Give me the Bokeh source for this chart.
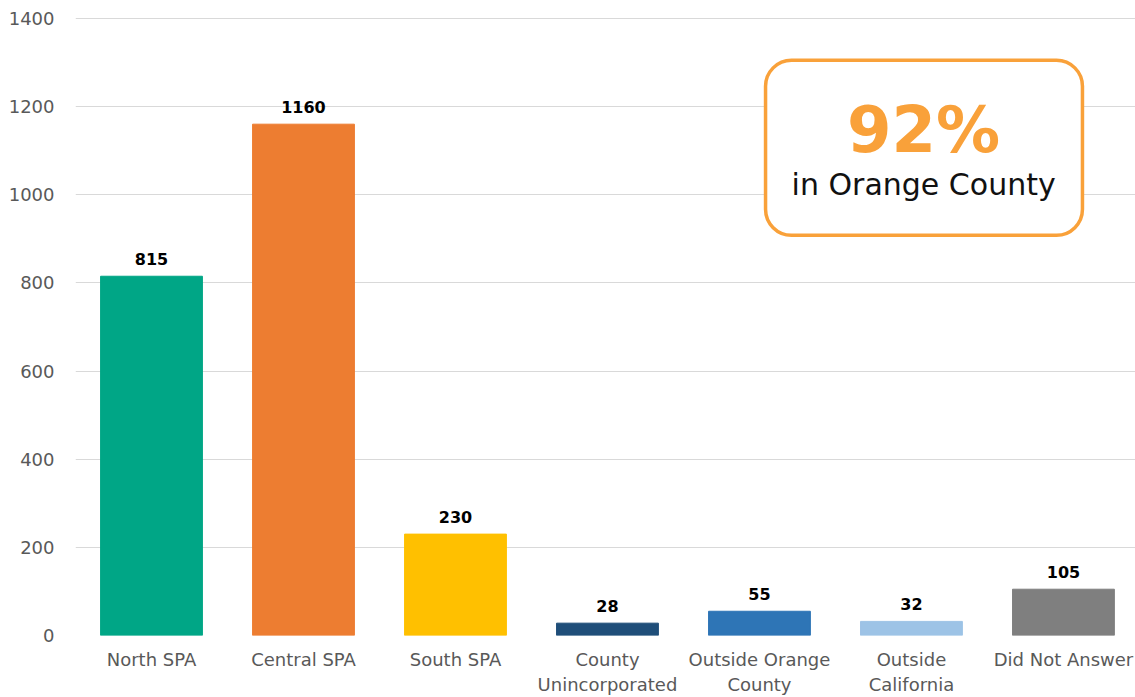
from bokeh.plotting import figure
from bokeh.models import ColumnDataSource, Range1d, FixedTicker, LabelSet, BoxAnnotation, Label
from bokeh.core.properties import value
from bokeh.embed import file_html
from bokeh.resources import INLINE

categories = ["North SPA", "Central SPA", "South SPA", "County\nUnincorporated",
              "Outside Orange\nCounty", "Outside\nCalifornia", "Did Not Answer"]
values = [815, 1160, 230, 28, 55, 32, 105]
colors = ["#00A686", "#ED7D31", "#FFC000", "#1F4E79", "#2E75B6", "#9DC3E6", "#7F7F7F"]
y_ticks = [0, 200, 400, 600, 800, 1000, 1200, 1400]
callout_big = "92%"
callout_small = "in Orange County"

FONT = "DejaVu Sans"

xs = list(range(len(categories)))
src = ColumnDataSource(dict(x=xs, top=values, color=colors, label=[str(v) for v in values]))

p = figure(width=1135, height=697, output_backend="svg", toolbar_location=None,
           x_range=Range1d(-0.5, 6.474), y_range=Range1d(0, 1402),
           min_border_left=75, min_border_top=17, min_border_right=0, min_border_bottom=62)
p.outline_line_color = None
p.background_fill_color = "white"

p.vbar(x="x", top="top", bottom=0, width=0.67, color="color", source=src)

p.xgrid.grid_line_color = None
p.ygrid.grid_line_color = "#D9D9D9"
p.ygrid.grid_line_width = 1
p.ygrid.ticker = FixedTicker(ticks=y_ticks)

p.yaxis.ticker = FixedTicker(ticks=y_ticks)
p.yaxis.axis_line_color = None
p.yaxis.major_tick_line_color = None
p.yaxis.minor_tick_line_color = None
p.yaxis.major_tick_out = 0
p.yaxis.major_label_standoff = 21
p.yaxis.major_label_text_font = FONT
p.yaxis.major_label_text_font_size = "18px"
p.yaxis.major_label_text_color = "#595959"

p.xaxis.ticker = FixedTicker(ticks=xs)
p.xaxis.major_label_overrides = {i: c for i, c in zip(xs, categories)}
p.xaxis.axis_line_color = None
p.xaxis.major_tick_line_color = None
p.xaxis.minor_tick_line_color = None
p.xaxis.major_tick_out = 0
p.xaxis.major_label_standoff = 13
p.xaxis.major_label_text_font = FONT
p.xaxis.major_label_text_font_size = "18px"
p.xaxis.major_label_text_color = "#595959"
p.xaxis.major_label_text_line_height = 1.2

labels = LabelSet(x="x", y="top", text="label", source=src, y_offset=11,
                  text_align="center", text_baseline="bottom",
                  text_font=value(FONT), text_font_size=value("16px"), text_font_style="bold",
                  text_color="black")
p.add_layout(labels)

box = BoxAnnotation(left=4.04, right=6.125, top=1305, bottom=908,
                    fill_color="white", fill_alpha=1.0,
                    line_color="#F9A13A", line_alpha=1.0, line_width=3.5, border_radius=26)
p.add_layout(box)

p.add_layout(Label(x=5.08, y=1146, text=callout_big, text_align="center", text_baseline="middle",
                   text_font=FONT, text_font_size="64px", text_font_style="bold",
                   text_color="#F9A13A"))
p.add_layout(Label(x=5.08, y=1023, text=callout_small, text_align="center", text_baseline="middle",
                   text_font=FONT, text_font_size="30px", text_color="#111111"))

open("out.html", "w").write(file_html(p, INLINE))
